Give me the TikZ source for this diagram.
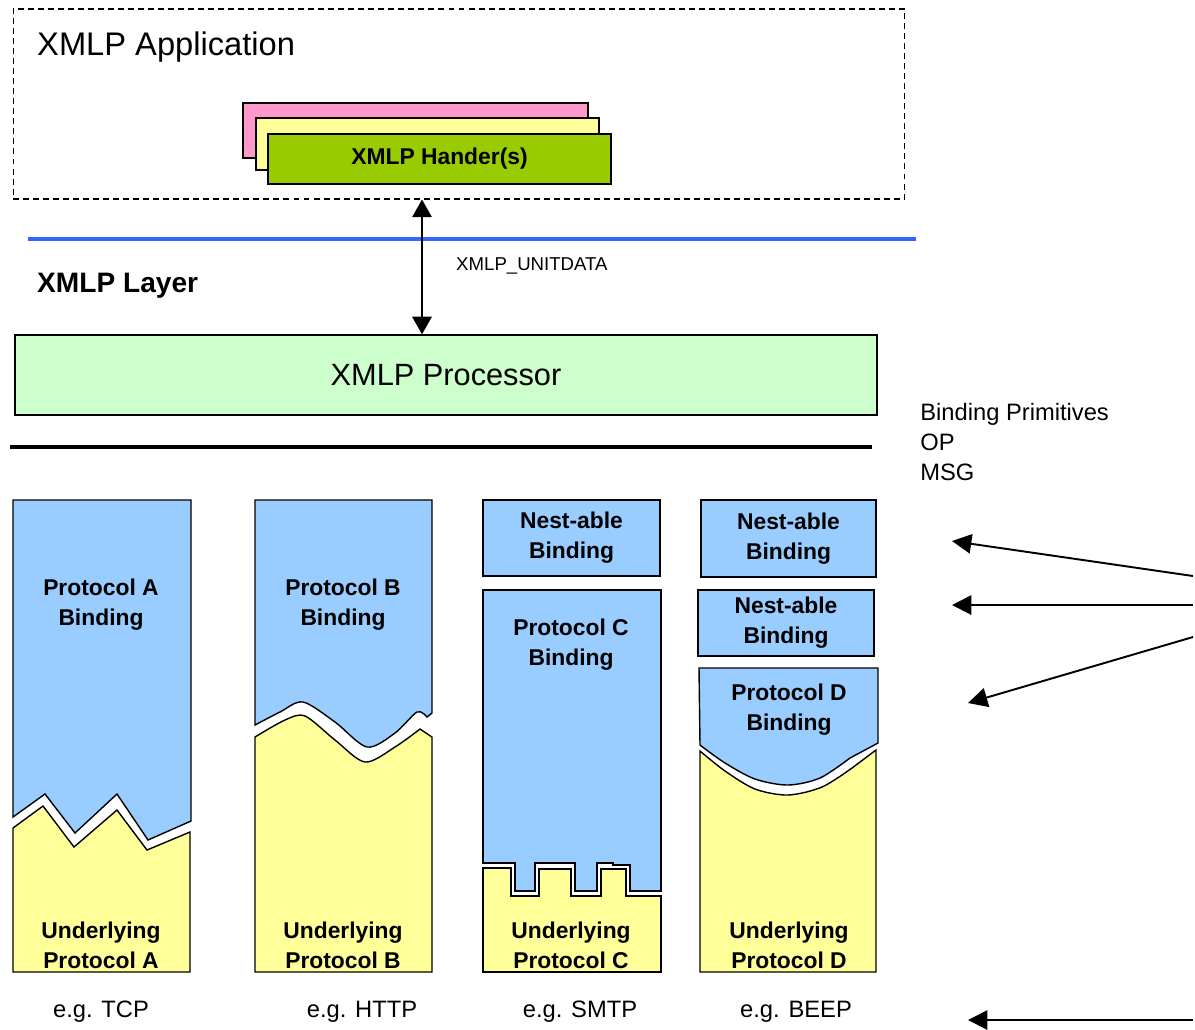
\documentclass[tikz,border=0pt]{standalone}
\usepackage{fontspec}
\setmainfont{Liberation Sans}
\usepackage{xcolor}
\usetikzlibrary{arrows.meta,positioning,calc}

\definecolor{bindblue}{HTML}{99CCFF}
\definecolor{lowyellow}{HTML}{FFFF99}
\definecolor{procgreen}{HTML}{CCFFCC}
\definecolor{handgreen}{HTML}{99CC00}
\definecolor{handpink}{HTML}{FF99CC}
\definecolor{layerblue}{HTML}{3366FF}

\begin{document}
\begin{tikzpicture} [
       x=0.02cm, y=-0.02cm,
       box/.style={draw, line width=0.8pt, inner sep=0pt},
       bind/.style={draw, line width=0.8pt, fill=bindblue},
       under/.style={draw, line width=0.8pt, fill=lowyellow},
       lab/.style={font=\fontsize{13}{17}\selectfont\bfseries, align=center},
       note/.style={font=\fontsize{13.5}{17}\selectfont},
       dbl/.style={{Triangle[length=10pt,width=11pt]}-{Triangle[length=10pt,width=11pt]}, line width=1.1pt},
       point/.style={-{Triangle[length=11pt,width=11pt]}, line width=1.1pt},
       ]
       \useasboundingbox (0,0) rectangle (1195,1029);

       % application and handlers
       \node (app) [box, dashed, dash pattern=on 3.4pt off 2.3pt, line width=0.6pt,
               minimum width=17.84cm, minimum height=3.8cm] at (459,104) {};
       \node (apptxt) [anchor=base west, font=\fontsize{18.6}{22}\selectfont] at (31,55) {XMLP Application};
       \node (hpink) [box, fill=handpink, minimum width=6.9cm, minimum height=1.1cm] at (415.5,130.5) {};
       \node (hyel) [box, fill=lowyellow, minimum width=6.86cm, minimum height=1.04cm] at (427.5,144) {};
       \node (hand) [box, fill=handgreen, minimum width=6.86cm, minimum height=1.0cm,
               font=\fontsize{13}{15}\selectfont\bfseries] at (439.5,159) {XMLP Hander(s)};

       % layer
       \draw [layerblue, line width=2.3pt] (28,239) -- (916,239);
       \node (layer) [anchor=base west, font=\fontsize{16}{19}\selectfont\bfseries] at (31,292) {XMLP Layer};
       \node (unit) [anchor=base west, font=\fontsize{10.6}{13}\selectfont] at (450,270) {XMLP\_UNITDATA};
       \coordinate (link) at (422,270);

       \node (proc) [box, fill=procgreen, minimum width=17.24cm, minimum height=1.6cm,
               font=\fontsize{17.5}{21}\selectfont] at (446,375) {XMLP Processor};
       \draw [line width=2.8pt] (10,447) -- (872,447);
       \node (prim) [note, align=left, anchor=north west, inner sep=0pt] at (920,403) {Binding Primitives\\OP\\MSG};

       % column A
       \draw [bind] (13,500) -- (191,500) -- (191,821) -- (148,840) -- (117,794) -- (75,833)
               -- (45,794) -- (13,817) -- cycle;
       \draw [under] (13,828) -- (43,806) -- (74,847) -- (117,810) -- (147,850) -- (190,832)
               -- (190,972) -- (13,972) -- cycle;
       \coordinate (tA) at (104,500);
       \node (bindA) [lab] at (101,605) {Protocol A\\Binding};
       \node (undA) [lab] at (101,945) {Underlying\\Protocol A};

       % column B
       \draw [bind] (255,500) -- (432,500) -- (432,713) -- plot [smooth] coordinates {(427,717) (417,712)
               (395,733) (367,747) (335,722) (303,702) (280,712) (255,725)} -- cycle;
       \draw [under] (432,737) -- plot [smooth] coordinates {(420,729) (395,747) (365,762) (335,740)
               (305,716) (285,720) (255,737)} -- (255,972) -- (432,972) -- cycle;
       \coordinate (tB) at (345,500);
       \node (bindB) [lab] at (343,605) {Protocol B\\Binding};
       \node (undB) [lab] at (343,945) {Underlying\\Protocol B};

       % column C
       \node (nestC) [box, fill=bindblue, minimum width=3.54cm, minimum height=1.52cm, lab] at (571.5,538) {Nest-able\\Binding};
       \draw [bind] (483,590) -- (661,590) -- (661,891) -- (630,891) -- (630,865) -- (613,865) -- (613,863)
               -- (597,863) -- (597,891) -- (575,891) -- (575,863) -- (535,863) -- (535,891) -- (515,891)
               -- (515,863) -- (483,863) -- cycle;
       \draw [under] (483,868) -- (511,868) -- (511,896) -- (539,896) -- (539,869) -- (571,869) -- (571,896)
               -- (601,896) -- (601,869) -- (626,869) -- (626,896) -- (661,896) -- (661,972) -- (483,972) -- cycle;
       \node (bindC) [lab] at (571,645) {Protocol C\\Binding};
       \node (undC) [lab] at (571,945) {Underlying\\Protocol C};

       % column D
       \node (nestD) [box, fill=bindblue, minimum width=3.5cm, minimum height=1.54cm, lab] at (788.5,538.5) {Nest-able\\Binding};
       \node (nestE) [box, fill=bindblue, minimum width=3.52cm, minimum height=1.32cm, lab] at (786,623) {Nest-able\\Binding};
       \draw [bind] (699,668) -- (878,668) -- (878,743) -- plot [smooth] coordinates {(850,758) (820,778)
               (788,785) (755,779) (725,763) (700,745)} -- cycle;
       \draw [under] (876,750) -- plot [smooth] coordinates {(852,768) (822,787) (788,795) (755,789)
               (725,771) (700,751)} -- (700,972) -- (876,972) -- cycle;
       \node (bindD) [lab] at (789,710) {Protocol D\\Binding};
       \node (undD) [lab] at (789,945) {Underlying\\Protocol D};

       % examples
       \node (egA) [note] at (101,1012) {e.g. TCP};
       \node (egB) [note] at (362,1012) {e.g. HTTP};
       \node (egC) [note] at (580,1012) {e.g. SMTP};
       \node (egD) [note] at (796,1012) {e.g. BEEP};

       % connectors
       \draw [dbl] (app.south -| link) -- (proc.north -| link);
       \begin{scope}[every path/.style={dbl, shorten <=1.7pt, shorten >=4pt}]
       \path (proc.south -| tA) -- (tA);
       \path (proc.south -| tB) -- (tB);
       \path (proc.south -| nestC.north) -- (nestC.north);
       \path (proc.south -| nestD.north) -- (nestD.north);
       \end{scope}

       \coordinate (s1) at (1193,576);
       \coordinate (s2) at (1193,605);
       \coordinate (s3) at (1193,637);
       \coordinate (s4) at (1193,1020);
       \coordinate (e1) at (952,541);
       \coordinate (e2) at (952,605);
       \coordinate (e3) at (968,703);
       \coordinate (e4) at (968,1020);
       \draw [point] (s1) -- (e1);
       \draw [point] (s2) -- (e2);
       \draw [point] (s3) -- (e3);
       \draw [point] (s4) -- (e4);
\end{tikzpicture}
\end{document}
